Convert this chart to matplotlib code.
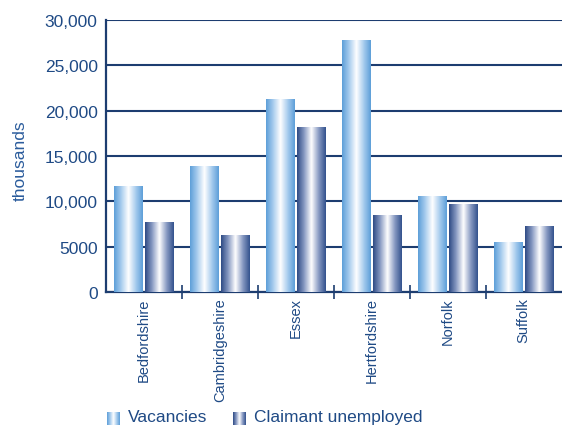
import numpy as np
import matplotlib
matplotlib.use('Agg')
import matplotlib.pyplot as plt
from matplotlib.colors import LinearSegmentedColormap
from matplotlib.ticker import FuncFormatter

counties = ['Bedfordshire', 'Cambridgeshire', 'Essex', 'Hertfordshire', 'Norfolk', 'Suffolk']
vacancies = [11600, 13800, 21200, 27700, 10500, 5500]
claimants = [7700, 6200, 18100, 8400, 9600, 7200]

navy = '#1d3d70'
txt = '#1f4a85'
plt.rcParams['font.family'] = ['Liberation Sans', 'DejaVu Sans']

vac_cmap = LinearSegmentedColormap.from_list('vac', ['#5e9fd9', '#a9cdee', '#ffffff', '#a9cdee', '#5e9fd9'])
cla_cmap = LinearSegmentedColormap.from_list('cla', ['#2f4c86', '#8b9cc4', '#ffffff', '#8b9cc4', '#34538e'])
grad = np.linspace(0, 1, 64).reshape(1, -1)

fig = plt.figure(figsize=(5.62, 4.27), dpi=100)
ax = fig.add_axes([0.1886, 0.314, 0.811, 0.637])

w = 0.38
x = np.arange(len(counties))
for xi, v, c in zip(x, vacancies, claimants):
    ax.imshow(grad, cmap=vac_cmap, extent=[xi - 0.205 - w / 2, xi - 0.205 + w / 2, 0, v],
              aspect='auto', zorder=3, interpolation='bilinear')
    ax.imshow(grad, cmap=cla_cmap, extent=[xi + 0.205 - w / 2, xi + 0.205 + w / 2, 0, c],
              aspect='auto', zorder=3, interpolation='bilinear')

ax.set_xlim(-0.5, 5.5)
ax.set_ylim(0, 30000)
ax.set_yticks(range(0, 30001, 5000))
ax.yaxis.set_major_formatter(FuncFormatter(lambda v, p: '{:,}'.format(int(v)) if v >= 10000 else str(int(v))))
ax.grid(axis='y', color=navy, linewidth=1.5, zorder=1)
ax.set_axisbelow(True)

ax.set_xticks(x)
ax.set_xticklabels(counties, rotation=90, fontsize=10.5, color=txt, va='top',
                   family=['Liberation Sans Narrow', 'Liberation Sans'])
ax.tick_params(axis='x', which='major', length=0, pad=4)
ax.set_xticks(np.arange(0.5, 5.0, 1.0), minor=True)
ax.tick_params(axis='x', which='minor', length=10, direction='inout', color=navy, width=1.2)
ax.tick_params(axis='y', length=0, labelsize=12.5, labelcolor=txt, pad=6)

for s in ['top', 'right']:
    ax.spines[s].set_visible(False)
for s in ['left', 'bottom']:
    ax.spines[s].set_color(navy)
    ax.spines[s].set_linewidth(1.6)

ax.set_ylabel('thousands', fontsize=12.5, color='#2b5c9c')
ax.yaxis.set_label_coords(-0.172, 0.485)

# legend
for lx, cmap, label in [(107, vac_cmap, 'Vacancies'), (233, cla_cmap, 'Claimant unemployed')]:
    sw = fig.add_axes([lx / 562, 1 / 427, 13 / 562, 13 / 427])
    sw.imshow(grad, cmap=cmap, aspect='auto', interpolation='bilinear')
    sw.axis('off')
    fig.text((lx + 21) / 562, 1 - 418 / 427, label, fontsize=12.5, color=txt, va='center')

fig.savefig('out.png', dpi=100)
